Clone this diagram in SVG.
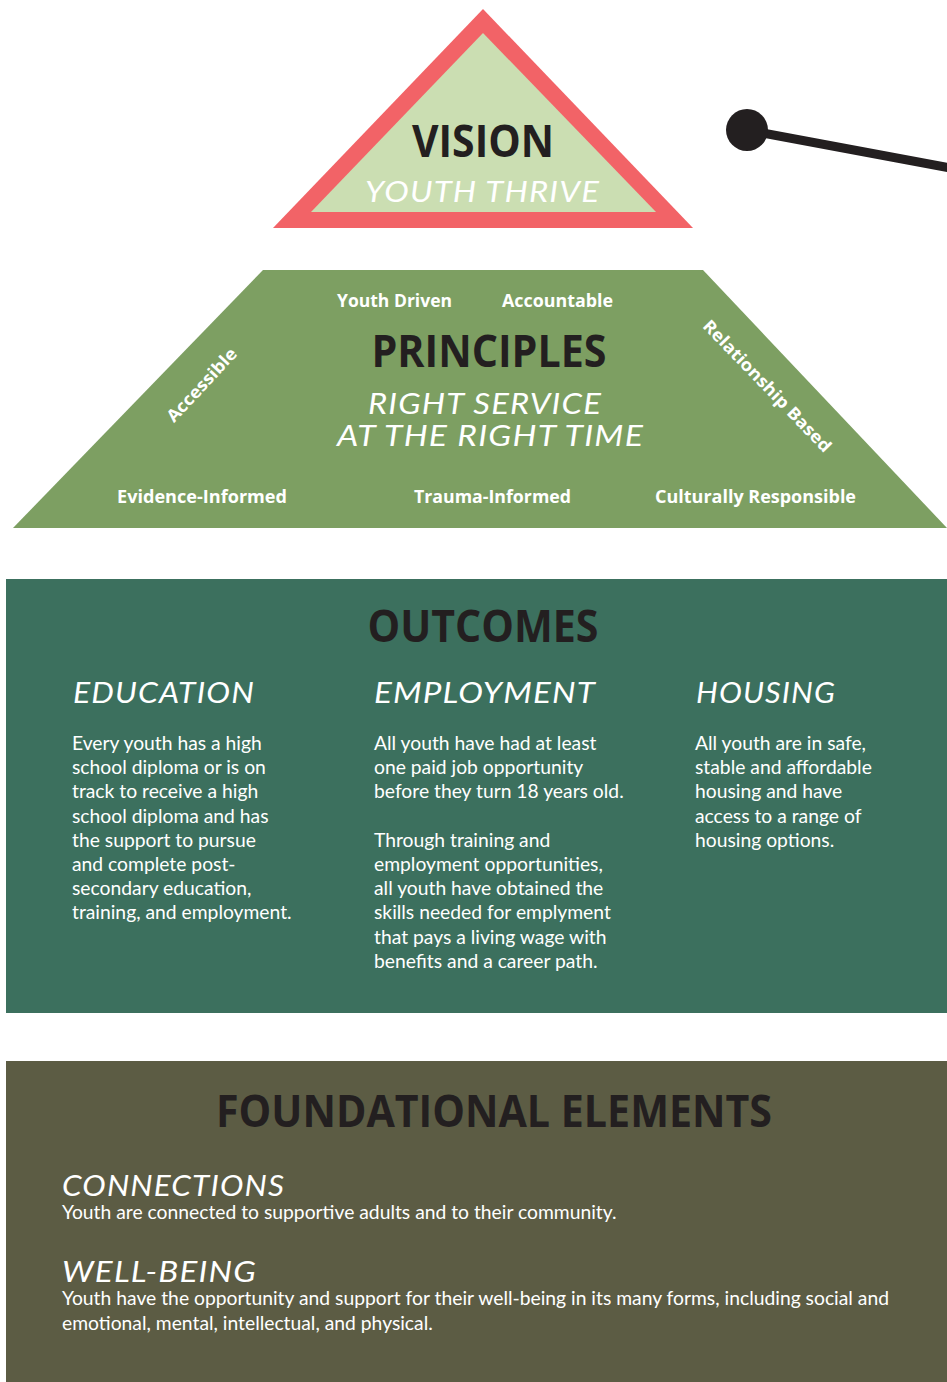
<svg xmlns="http://www.w3.org/2000/svg" width="947" height="1382" viewBox="0 0 947 1382">
<style>
.h{font-family:"Open Sans","Liberation Sans",sans-serif;font-weight:700;fill:#231f20;font-size:44px;text-anchor:middle}
.hw{font-family:"Lato","Liberation Sans",sans-serif;font-style:italic;fill:#ffffff;font-size:28px;letter-spacing:1px}
.lab{font-family:"Open Sans","Liberation Sans",sans-serif;font-weight:700;fill:#ffffff;font-size:17px}
.b{font-family:"Lato","Liberation Sans",sans-serif;fill:#ffffff;font-size:19.3px}
</style>
<rect width="947" height="1382" fill="#ffffff"/>
<g id="vision">
<polygon points="483,9 693,228 273,228" fill="#f26367"/>
<polygon points="483,33 656,212 311,212" fill="#cbdeb2"/>
<text class="h" x="483" y="157" textLength="142" lengthAdjust="spacingAndGlyphs">VISION</text>
<text class="hw" x="365" y="202" textLength="235" lengthAdjust="spacingAndGlyphs">YOUTH THRIVE</text>
</g>
<g id="connectors">
<line x1="747" y1="130" x2="950" y2="168" stroke="#231f20" stroke-width="9"/>
<circle cx="747" cy="130" r="21" fill="#231f20"/>
</g>
<g id="principles">
<polygon points="263,270 703,270 947,528 13,528" fill="#7d9f62"/>
<text class="lab" x="337" y="307" textLength="115" lengthAdjust="spacingAndGlyphs">Youth Driven</text>
<text class="lab" x="502" y="307" textLength="111" lengthAdjust="spacingAndGlyphs">Accountable</text>
<text class="h" x="489" y="367" textLength="235" lengthAdjust="spacingAndGlyphs">PRINCIPLES</text>
<text class="hw" x="368" y="414" textLength="234" lengthAdjust="spacingAndGlyphs">RIGHT SERVICE</text>
<text class="hw" x="337" y="446" textLength="307" lengthAdjust="spacingAndGlyphs">AT THE RIGHT TIME</text>
<text class="lab" x="0" y="0" text-anchor="middle" transform="translate(206,389) rotate(-47)" textLength="94" lengthAdjust="spacingAndGlyphs">Accessible</text>
<text class="lab" x="0" y="0" text-anchor="middle" transform="translate(763,390) rotate(46)" textLength="176" lengthAdjust="spacingAndGlyphs">Relationship Based</text>
<text class="lab" x="117" y="503" textLength="170" lengthAdjust="spacingAndGlyphs">Evidence-Informed</text>
<text class="lab" x="414" y="503" textLength="157" lengthAdjust="spacingAndGlyphs">Trauma-Informed</text>
<text class="lab" x="655" y="503" textLength="201" lengthAdjust="spacingAndGlyphs">Culturally Responsible</text>
</g>
<g id="outcomes">
<rect x="6" y="579" width="941" height="434" fill="#3c705e"/>
<text class="h" x="483" y="642" textLength="231" lengthAdjust="spacingAndGlyphs">OUTCOMES</text>
<text class="hw" x="73" y="703" textLength="182" lengthAdjust="spacingAndGlyphs">EDUCATION</text>
<text class="hw" x="374" y="703" textLength="222" lengthAdjust="spacingAndGlyphs">EMPLOYMENT</text>
<text class="hw" x="696" y="703" textLength="140" lengthAdjust="spacingAndGlyphs">HOUSING</text>
<text class="b" x="72" y="750">
<tspan x="72" y="750">Every youth has a high</tspan>
<tspan x="72" y="774">school diploma or is on</tspan>
<tspan x="72" y="798">track to receive a high</tspan>
<tspan x="72" y="823">school diploma and has</tspan>
<tspan x="72" y="847">the support to pursue</tspan>
<tspan x="72" y="871">and complete post-</tspan>
<tspan x="72" y="895">secondary education,</tspan>
<tspan x="72" y="919">training, and employment.</tspan>
</text>
<text class="b" x="374" y="750">
<tspan x="374" y="750">All youth have had at least</tspan>
<tspan x="374" y="774">one paid job opportunity</tspan>
<tspan x="374" y="798">before they turn 18 years old.</tspan>
<tspan x="374" y="847">Through training and</tspan>
<tspan x="374" y="871">employment opportunities,</tspan>
<tspan x="374" y="895">all youth have obtained the</tspan>
<tspan x="374" y="919">skills needed for emplyment</tspan>
<tspan x="374" y="944">that pays a living wage with</tspan>
<tspan x="374" y="968">benefits and a career path.</tspan>
</text>
<text class="b" x="695" y="750">
<tspan x="695" y="750">All youth are in safe,</tspan>
<tspan x="695" y="774">stable and affordable</tspan>
<tspan x="695" y="798">housing and have</tspan>
<tspan x="695" y="823">access to a range of</tspan>
<tspan x="695" y="847">housing options.</tspan>
</text>
</g>
<g id="foundational">
<rect x="6" y="1061" width="941" height="321" fill="#5c5c44"/>
<text class="h" x="494" y="1127" textLength="556" lengthAdjust="spacingAndGlyphs">FOUNDATIONAL ELEMENTS</text>
<text class="hw" x="62" y="1196" textLength="223" lengthAdjust="spacingAndGlyphs">CONNECTIONS</text>
<text class="b" x="62" y="1219">Youth are connected to supportive adults and to their community.</text>
<text class="hw" x="62" y="1282" textLength="195" lengthAdjust="spacingAndGlyphs">WELL-BEING</text>
<text class="b" x="62" y="1305" textLength="827" lengthAdjust="spacingAndGlyphs">Youth have the opportunity and support for their well-being in its many forms, including social and</text>
<text class="b" x="62" y="1330">emotional, mental, intellectual, and physical.</text>
</g>
</svg>
